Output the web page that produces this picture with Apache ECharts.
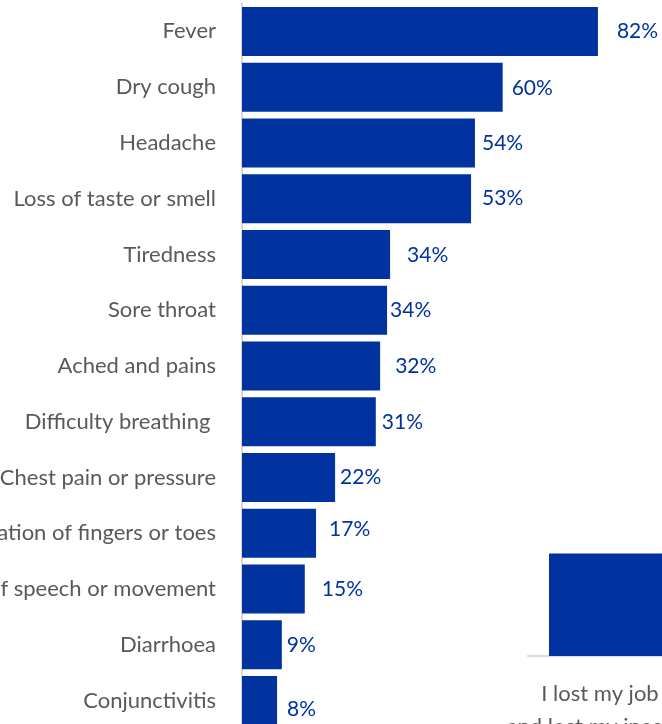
<!DOCTYPE html>
<html><head><meta charset="utf-8">
<script src="https://cdn.jsdelivr.net/npm/echarts@6/dist/echarts.min.js"></script>
<style>html,body{margin:0;padding:0;background:#fff}#c{width:662px;height:724px}</style>
</head><body><div id="c"></div>
<script>
// Symptoms (top to bottom)
const symptoms = ["Fever","Dry cough","Headache","Loss of taste or smell","Tiredness","Sore throat","Ached and pains","Difficulty breathing ","Chest pain or pressure","Discolouration of fingers or toes","Loss of speech or movement","Diarrhoea","Conjunctivitis"];
const symptomValues = [82.2, 60.2, 53.8, 52.9, 34.2, 33.5, 31.9, 30.9, 21.5, 17.1, 14.5, 9.2, 8.1];
const symptomLabels = ["82%","60%","54%","53%","34%","34%","32%","31%","22%","17%","15%","9%","8%"];
// second (partially visible) chart
const impactCats = ["I lost my job\nand lost my income", ""];
const impactValues = [40, 0];

// label spacing (style only)
const labelGap = [19, 9, 7, 11, 17, 3, 15, 6, 5, 13, 17, 5, 10];
const labelDy  = [0, 1, 0, 0, 1, 0, 0, 0, 0, -4, 0, 0, 9];

const blue = '#0033A0';
const chart = echarts.init(document.getElementById('c'));
chart.setOption({
  animation: false,
  grid: [
    {left: 242, top: 3.5, width: 433, height: 725, containLabel: false, outerBoundsMode: 'none'},
    {left: 528, top: 400, width: 312, height: 256, containLabel: false, outerBoundsMode: 'none'}
  ],
  xAxis: [
    {gridIndex: 0, type: 'value', min: 0, max: 100, show: false},
    {gridIndex: 1, type: 'category', data: impactCats,
     axisLine: {show: true, lineStyle: {color: '#d9d9d9', width: 2}},
     axisTick: {show: false},
     axisLabel: {color: '#595959', fontFamily: 'Lato', fontSize: 22, lineHeight: 33, margin: 21, interval: 0,
                 padding: [0, 12, 0, 0]}}
  ],
  yAxis: [
    {gridIndex: 0, type: 'category', inverse: true, data: symptoms,
     axisLine: {show: true, lineStyle: {color: '#d9d9d9', width: 2}},
     axisTick: {show: false},
     axisLabel: {color: '#595959', fontFamily: 'Lato', fontSize: 22, margin: 26, interval: 0}},
    {gridIndex: 1, type: 'value', min: 0, max: 100, show: false}
  ],
  series: [
    {type: 'bar', xAxisIndex: 0, yAxisIndex: 0, barWidth: 49,
     itemStyle: {color: blue},
     data: symptomValues.map((v, i) => ({
       value: v,
       label: {show: true, position: 'right', distance: labelGap[i], offset: [0, labelDy[i]],
               formatter: symptomLabels[i], color: blue, fontFamily: 'Lato', fontSize: 21}
     }))},
    {type: 'bar', xAxisIndex: 1, yAxisIndex: 1, barWidth: 114,
     itemStyle: {color: blue}, data: impactValues}
  ]
});
</script></body></html>
